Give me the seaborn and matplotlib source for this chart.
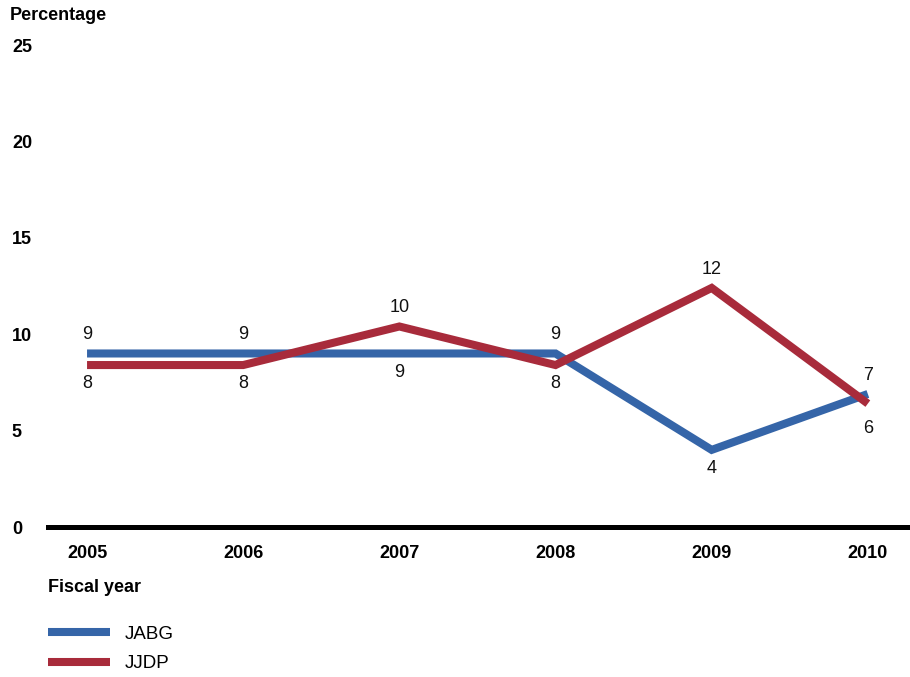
import pandas as pd
import matplotlib.pyplot as plt
import seaborn as sns

# Data
years = [2005, 2006, 2007, 2008, 2009, 2010]
jabg = [9.0, 9.0, 9.0, 9.0, 4.0, 6.9]
jjdp = [8.4, 8.4, 10.4, 8.4, 12.4, 6.4]
jabg_labels = ["9", "9", "9", "9", "4", "7"]
jjdp_labels = ["8", "8", "10", "8", "12", "6"]
# +1 label above the line, -1 below
jabg_side = [1, 1, -1, 1, -1, 1]
jjdp_side = [-1, -1, 1, -1, 1, -1.35]
y_ticks = [0, 5, 10, 15, 20, 25]

colors = {"JABG": "#3565a8", "JJDP": "#a82b3b"}

df = pd.DataFrame({
    "year": years * 2,
    "value": jabg + jjdp,
    "program": ["JABG"] * len(years) + ["JJDP"] * len(years),
})

sns.set_style("white")
plt.rcParams['font.family'] = ['Liberation Sans', 'DejaVu Sans']
plt.rcParams['text.color'] = 'black'
plt.rcParams['xtick.color'] = 'black'
plt.rcParams['ytick.color'] = 'black'

fig = plt.figure(figsize=(9.1, 6.77), dpi=100)
ax = fig.add_axes([48 / 910, 150 / 677, 1 - 48 / 910, (527 - 45) / 677])

sns.lineplot(data=df, x="year", y="value", hue="program", palette=colors,
             linewidth=5.8, ax=ax, legend=False, sort=False)
for line in ax.lines:
    line.set_solid_joinstyle("miter")
    line.set_solid_capstyle("butt")

# value labels
for vals, labs, sides in [(jabg, jabg_labels, jabg_side), (jjdp, jjdp_labels, jjdp_side)]:
    for x, v, t, s in zip(years, vals, labs, sides):
        ax.annotate(t, (x, v), xytext=(0, 13.5 * s), textcoords="offset points",
                    ha="center", va="center", fontsize=13, color="#111111")

ax.set_xlim(2004.75, 2010.27)
ax.set_ylim(0, 25)
ax.set_xticks(years)
ax.set_xticklabels([str(y) for y in years], fontweight="bold", fontsize=13)
ax.set_yticks(y_ticks)
ax.set_yticklabels([str(t) for t in y_ticks], fontweight="bold", fontsize=13, ha="left")
ax.tick_params(axis="y", length=0, pad=26)
ax.tick_params(axis="x", length=0, pad=13)
ax.set_xlabel("")
ax.set_ylabel("")

for side in ["top", "right", "left"]:
    ax.spines[side].set_visible(False)
ax.spines["bottom"].set_linewidth(3.6)
ax.spines["bottom"].set_color("black")

fig.text(10 / 910, 1 - 15 / 677, "Percentage", fontweight="bold", fontsize=13,
         ha="left", va="center")
fig.text(48 / 910, 1 - 588 / 677, "Fiscal year", fontweight="bold", fontsize=13,
         ha="left", va="center")

handles = [plt.Line2D([], [], color=colors[k], linewidth=5.8, solid_capstyle="butt")
           for k in ["JABG", "JJDP"]]
fig.legend(handles, ["JABG", "JJDP"], loc="upper left",
           bbox_to_anchor=(40.5 / 910, 1 - 618 / 677), frameon=False, fontsize=13.5,
           handlelength=3.3, handletextpad=0.8, labelspacing=0.68, borderaxespad=0)

plt.savefig("out.png", dpi=100)
